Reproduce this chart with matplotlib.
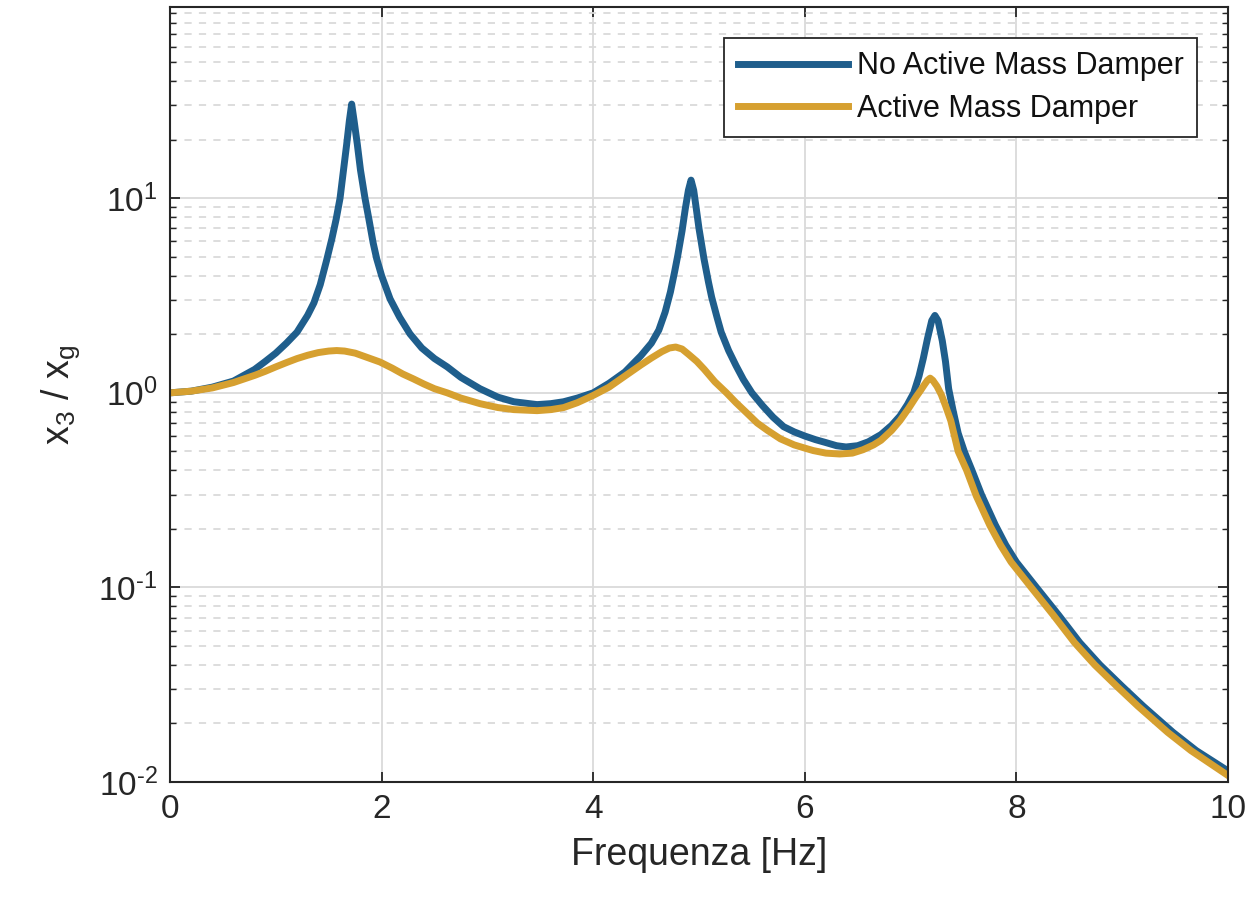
import matplotlib
matplotlib.use("Agg")
import matplotlib.pyplot as plt
from matplotlib.ticker import FixedLocator, FixedFormatter, LogLocator, NullFormatter

plt.rcParams['font.family'] = ['Liberation Sans', 'DejaVu Sans']
plt.rcParams['mathtext.fontset'] = 'custom'
plt.rcParams['mathtext.rm'] = 'Liberation Sans'
plt.rcParams['mathtext.it'] = 'Liberation Sans'

# No Active Mass Damper
f_no = [0.0, 0.2, 0.4, 0.6, 0.8, 0.9, 1.0, 1.1, 1.2, 1.3, 1.36, 1.42, 1.48,
        1.53, 1.57, 1.607, 1.64, 1.67, 1.695, 1.717, 1.74, 1.77, 1.80, 1.843,
        1.88, 1.92, 1.953, 2.0, 2.08, 2.17, 2.268, 2.38, 2.5, 2.62, 2.75, 2.93,
        3.1, 3.25, 3.47, 3.6, 3.72, 3.85, 4.0, 4.15, 4.3, 4.45, 4.55, 4.62,
        4.68, 4.73, 4.77, 4.80, 4.84, 4.87, 4.90, 4.925, 4.95, 4.975, 5.0,
        5.047, 5.09, 5.12, 5.17, 5.21, 5.28, 5.35, 5.42, 5.5, 5.6, 5.7, 5.8,
        5.9, 6.0, 6.1, 6.2, 6.3, 6.39, 6.5, 6.6, 6.72, 6.82, 6.9, 6.97, 7.03,
        7.08, 7.12, 7.16, 7.2, 7.23, 7.26, 7.3, 7.33, 7.36, 7.4, 7.45, 7.51,
        7.58, 7.67, 7.8, 7.9, 8.0, 8.19, 8.4, 8.6, 8.79, 9.0, 9.2, 9.48, 9.7, 10.0]
a_no = [1.0, 1.02, 1.07, 1.15, 1.32, 1.45, 1.6, 1.8, 2.05, 2.5, 2.9, 3.6, 4.8,
        6.2, 7.8, 10.0, 14.0, 19.0, 25.0, 30.5, 25.0, 19.0, 14.0, 10.0,
        7.8, 5.9, 4.9, 4.0, 3.04, 2.45, 2.01, 1.7, 1.5, 1.36, 1.2, 1.05,
        0.95, 0.90, 0.87, 0.88, 0.90, 0.94, 1.0, 1.12, 1.28, 1.55, 1.8, 2.1,
        2.6, 3.3, 4.2, 5.1, 6.8, 8.8, 11.0, 12.4, 11.0, 8.8, 7.0,
        4.89, 3.7, 3.1, 2.45, 2.05, 1.65, 1.38, 1.17, 1.0, 0.86, 0.75, 0.67,
        0.63, 0.60, 0.575, 0.555, 0.535, 0.527, 0.535, 0.56, 0.61, 0.68, 0.76, 0.87, 1.0,
        1.22, 1.5, 1.9, 2.35, 2.5, 2.35, 1.85, 1.45, 1.05, 0.82, 0.62, 0.496,
        0.4, 0.30, 0.21, 0.165, 0.135, 0.1, 0.072, 0.052, 0.040, 0.031, 0.0245, 0.018, 0.0145, 0.0114]

# Active Mass Damper
f_amd = [0.0, 0.2, 0.4, 0.6, 0.8, 0.9, 1.0, 1.1, 1.2, 1.3, 1.4, 1.5, 1.575,
         1.65, 1.75, 1.85, 1.985, 2.1, 2.2, 2.3, 2.4, 2.5, 2.62, 2.75, 2.93,
         3.1, 3.25, 3.47, 3.6, 3.72, 3.85, 4.0, 4.15, 4.3, 4.45, 4.55, 4.65,
         4.72, 4.78, 4.84, 4.9, 4.98, 5.05, 5.15, 5.26, 5.35, 5.45, 5.55, 5.65,
         5.77, 5.9, 6.0, 6.08, 6.2, 6.33, 6.45, 6.55, 6.65, 6.72, 6.82, 6.9,
         6.98, 7.05, 7.09, 7.13, 7.16, 7.185, 7.21, 7.25, 7.29, 7.33, 7.38,
         7.45, 7.53, 7.62, 7.75, 7.85, 7.95, 8.14, 8.35, 8.55, 8.74, 8.95, 9.15,
         9.43, 9.65, 10.0]
a_amd = [1.0, 1.02, 1.06, 1.13, 1.23, 1.29, 1.36, 1.43, 1.5, 1.56, 1.61, 1.64, 1.65,
         1.64, 1.6, 1.53, 1.44, 1.34, 1.25, 1.18, 1.11, 1.05, 1.0, 0.94, 0.88,
         0.84, 0.82, 0.81, 0.82, 0.84, 0.89, 0.97, 1.07, 1.22, 1.39, 1.51, 1.63,
         1.70, 1.72, 1.68, 1.58, 1.45, 1.32, 1.14, 1.0, 0.89, 0.79, 0.70, 0.64,
         0.58, 0.54, 0.52, 0.505, 0.49, 0.485, 0.49, 0.51, 0.54, 0.57, 0.64, 0.72,
         0.83, 0.95, 1.02, 1.1, 1.16, 1.19, 1.16, 1.08, 0.98, 0.86, 0.72,
         0.50, 0.40, 0.296, 0.208, 0.165, 0.135, 0.1, 0.072, 0.052, 0.040, 0.031, 0.0245,
         0.018, 0.0145, 0.0108]

labels = ['No Active Mass Damper', 'Active Mass Damper']
colors = ['#1F5E8C', '#D6A030']
xticks = [0, 2, 4, 6, 8, 10]
yticks = [0.01, 0.1, 1, 10]
ytick_labels = [r'$10^{\text{-}2}$', r'$10^{\text{-}1}$', r'$10^{0}$', r'$10^{1}$']

fig = plt.figure(figsize=(12.53, 8.99), dpi=100)
ax = fig.add_axes([0.1357, 0.1302, 0.8443, 0.8618])

ax.plot(f_no, a_no, color=colors[0], lw=5, label=labels[0], solid_joinstyle='round')
ax.plot(f_amd, a_amd, color=colors[1], lw=5, label=labels[1], solid_joinstyle='round')

ax.set_yscale('log')
ax.set_xlim(0, 10)
ax.set_ylim(0.01, 96)
ax.set_xticks(xticks)
ax.set_xticklabels([str(v) for v in xticks])
ax.yaxis.set_major_locator(FixedLocator(yticks))
ax.yaxis.set_major_formatter(FixedFormatter(ytick_labels))
ax.yaxis.set_minor_locator(LogLocator(base=10, subs=range(2, 10), numticks=100))
ax.yaxis.set_minor_formatter(NullFormatter())

ax.grid(True, which='major', color='#DADADA', lw=1.3, ls='-')
ax.grid(True, which='minor', axis='y', color='#DADADA', lw=1.3, ls=(0, (4, 4)))
ax.set_axisbelow(True)

ax.tick_params(which='both', direction='in', top=True, right=True, colors='#262626',
               labelcolor='#262626', labelsize=24)
ax.tick_params(which='major', length=7, width=1.3, pad=9)
ax.tick_params(which='minor', length=4, width=1.0)
for s in ax.spines.values():
    s.set_color('#262626')
    s.set_linewidth(1.5)

ax.set_xlabel('Frequenza [Hz]', fontsize=27, color='#262626', labelpad=8)
ax.set_ylabel(r'x$_{\mathregular{3}}$ / x$_{\mathregular{g}}$', fontsize=27,
              color='#262626', labelpad=12)

leg = ax.legend(loc='upper right', fontsize=22, frameon=True, fancybox=False,
                edgecolor='#262626', framealpha=1, handlelength=3.6, handletextpad=0.3,
                borderaxespad=1.0, borderpad=0.45, labelspacing=0.4)
leg.get_frame().set_linewidth(1.3)
for t in leg.get_texts():
    t.set_color('#111111')

fig.savefig('out.png', dpi=100)
